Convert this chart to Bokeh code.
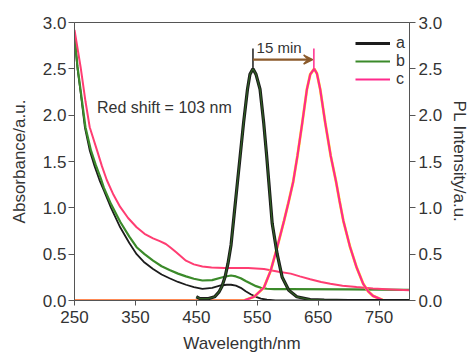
from bokeh.plotting import figure
from bokeh.models import (Range1d, LinearAxis, FixedTicker, Legend, LegendItem,
                          Arrow, VeeHead, Label, NumeralTickFormatter)
from bokeh.embed import file_html
from bokeh.resources import INLINE

# ---- Absorbance spectra ----
abs_a_wl = [250, 255, 260, 267, 275, 283, 291, 298, 310, 325, 340, 352, 365, 379, 393, 406, 420, 433,
            446, 460, 476, 490, 500, 507, 515, 523, 531, 540, 548, 556, 566, 580, 600, 700, 800]
abs_a = [2.85, 2.5, 2.25, 1.87, 1.62, 1.45, 1.3, 1.19, 1.0, 0.79, 0.62, 0.5, 0.41, 0.34, 0.28, 0.24, 0.2, 0.17,
         0.145, 0.126, 0.137, 0.162, 0.17, 0.17, 0.16, 0.137, 0.1, 0.065, 0.04, 0.02, 0.008, 0.002, 0.0, 0.0, 0.0]

abs_b_wl = [250, 255, 260, 268, 277, 285, 293, 298, 310, 325, 340, 352, 365, 379, 393, 406, 420, 433,
            446, 460, 476, 490, 500, 507, 515, 523, 531, 540, 548, 556, 566, 578, 600, 700, 800]
abs_b = [2.85, 2.52, 2.27, 1.87, 1.62, 1.46, 1.32, 1.22, 1.04, 0.85, 0.69, 0.575, 0.5, 0.43, 0.37, 0.33, 0.29, 0.26,
         0.235, 0.216, 0.22, 0.245, 0.262, 0.27, 0.26, 0.24, 0.21, 0.18, 0.155, 0.137, 0.127, 0.122, 0.122, 0.12, 0.115]

abs_c_wl = [250, 255, 260, 268, 275, 287, 295, 303, 314, 325, 338, 352, 365, 379, 390, 400, 408, 417, 433,
            446, 460, 475, 496, 535, 561, 585, 605, 620, 637, 655, 670, 690, 713, 740, 770, 800]
abs_c = [2.92, 2.72, 2.52, 2.15, 1.87, 1.62, 1.45, 1.3, 1.14, 1.01, 0.89, 0.79, 0.72, 0.67, 0.64, 0.61, 0.57, 0.52, 0.43,
         0.39, 0.367, 0.355, 0.35, 0.35, 0.34, 0.31, 0.29, 0.26, 0.23, 0.2, 0.18, 0.16, 0.145, 0.13, 0.12, 0.11]

# ---- PL emission spectra ----
pl_ab_wl = [450, 456, 470, 480, 487, 492, 497, 502, 507, 512, 517.6, 522, 527.6, 534, 538, 543, 548, 554.6,
            560.6, 565.5, 569, 574.6, 582.8, 591, 601.8, 615, 637, 660, 700, 800]
pl_a = [0.04, 0.02, 0.02, 0.04, 0.09, 0.15, 0.25, 0.4, 0.6, 0.92, 1.28, 1.56, 1.92, 2.28, 2.44, 2.5, 2.44, 2.28,
        1.92, 1.56, 1.28, 0.83, 0.5, 0.25, 0.11, 0.04, 0.01, 0.003, 0.0, 0.0]
pl_b = [0.04, 0.02, 0.02, 0.04, 0.09, 0.15, 0.25, 0.4, 0.6, 0.92, 1.28, 1.56, 1.92, 2.28, 2.44, 2.5, 2.44, 2.28,
        1.92, 1.56, 1.28, 0.83, 0.5, 0.25, 0.11, 0.04, 0.01, 0.003, 0.0, 0.0]

pl_c_wl = [250, 500, 528, 545, 561, 572, 583, 594, 601, 609, 616, 624, 631.6, 637, 643.5, 648, 653.4, 661.6,
           670.7, 679.5, 685, 691.4, 702.3, 713, 724, 732, 740, 756, 770, 800]
pl_c = [0.0, 0.0, 0.0, 0.04, 0.14, 0.32, 0.58, 0.86, 1.05, 1.28, 1.56, 1.92, 2.28, 2.44, 2.5, 2.45, 2.28, 1.92,
        1.56, 1.28, 1.08, 0.86, 0.58, 0.36, 0.18, 0.1, 0.05, 0.005, 0.0, 0.0]

# ---- annotation values ----
peak_a_wl = 543
peak_c_wl = 643
peak_val = 2.5
marker_top = 2.72
arrow_y = 2.6
shift_text = "Red shift = 103 nm"
shift_pos = (287, 2.08)
time_text = "15 min"
time_pos = (549, 2.64)

x_ticks = [250, 350, 450, 550, 650, 750]
y_ticks = [0.0, 0.5, 1.0, 1.5, 2.0, 2.5, 3.0]

FONT = "Liberation Sans"
TXT = "#333333"
AX = "#555555"
BLACK = "#1c1c1c"
GREEN = "#3b8a2a"
PINK = "#ff3d72"
PINK_PL = "#ff2a8c"
YELLOW = "#ffe81a"
BROWN = "#8b5a2b"

p = figure(width=472, height=358, output_backend="svg", toolbar_location=None,
           x_range=Range1d(250, 800), y_range=Range1d(0, 3.0),
           min_border_left=74, min_border_right=60, min_border_top=22, min_border_bottom=58)
p.extra_y_ranges = {"pl": Range1d(0, 3.0)}
p.grid.visible = False
p.outline_line_color = AX
p.outline_line_width = 1
p.background_fill_color = "white"
p.border_fill_color = "white"

# absorbance
r_abs_a = p.line(abs_a_wl, abs_a, line_color=BLACK, line_width=1.8)
r_abs_b = p.line(abs_b_wl, abs_b, line_color=GREEN, line_width=2.2)
p.line(abs_c_wl, abs_c, line_color=PINK, line_width=2.0)

# emission
r_pl_c_y = p.line(pl_c_wl, pl_c, line_color=YELLOW, line_width=2.8, y_range_name="pl")
r_pl_c = p.line(pl_c_wl, pl_c, line_color=PINK_PL, line_width=2.2, y_range_name="pl")
r_pl_a = p.line(pl_ab_wl, pl_a, line_color=BLACK, line_width=3.2, y_range_name="pl")
p.line(pl_ab_wl, pl_b, line_color="#2f5e22", line_width=1.2, y_range_name="pl")

# markers and arrow
p.segment(x0=[peak_a_wl], y0=[peak_val], x1=[peak_a_wl], y1=[marker_top], line_color=BLACK, line_width=1.5)
p.segment(x0=[peak_c_wl], y0=[peak_val], x1=[peak_c_wl], y1=[marker_top], line_color=PINK_PL, line_width=1.5)
p.add_layout(Arrow(x_start=peak_a_wl, y_start=arrow_y, x_end=peak_c_wl - 2, y_end=arrow_y,
                   line_color=BROWN, line_width=2.2,
                   end=VeeHead(size=9, line_color=BROWN, fill_color=BROWN, line_width=1.5)))
p.add_layout(Label(x=time_pos[0], y=time_pos[1], text=time_text, text_font=FONT,
                   text_font_size="15px", text_color=TXT, text_baseline="bottom"))
p.add_layout(Label(x=shift_pos[0], y=shift_pos[1], text=shift_text, text_font=FONT,
                   text_font_size="16px", text_color=TXT, text_baseline="middle"))

# axes
def style_axis(ax):
    ax.axis_line_color = AX
    ax.major_tick_line_color = AX
    ax.major_tick_out = 6
    ax.major_tick_in = 0
    ax.minor_tick_line_color = None
    ax.major_label_text_font = FONT
    ax.major_label_text_font_size = "17px"
    ax.major_label_text_color = TXT
    ax.axis_label_text_font = FONT
    ax.axis_label_text_font_size = "17px"
    ax.axis_label_text_font_style = "normal"
    ax.axis_label_text_color = TXT

xa = p.xaxis[0]
xa.ticker = FixedTicker(ticks=x_ticks)
xa.axis_label = "Wavelength/nm"
style_axis(xa)
xa.major_tick_out = 5
xa.major_label_standoff = 5
xa.axis_label_standoff = 8

ya = p.yaxis[0]
ya.ticker = FixedTicker(ticks=y_ticks)
ya.formatter = NumeralTickFormatter(format="0.0")
ya.axis_label = "Absorbance/a.u."
style_axis(ya)
ya.major_label_standoff = 2
ya.axis_label_standoff = 11

yr = LinearAxis(y_range_name="pl", ticker=FixedTicker(ticks=y_ticks),
                formatter=NumeralTickFormatter(format="0.0"), axis_label="PL Intensity/a.u.")
style_axis(yr)
yr.major_label_standoff = 3
yr.axis_label_standoff = 5
p.add_layout(yr, "right")

legend = Legend(items=[LegendItem(label="a", renderers=[r_pl_a]),
                       LegendItem(label="b", renderers=[r_abs_b]),
                       LegendItem(label="c", renderers=[r_pl_c])],
                location=(281, 212), glyph_width=35, glyph_height=18, label_height=18,
                label_standoff=6, spacing=0, padding=0, margin=0,
                label_text_font=FONT, label_text_font_size="16px", label_text_color=TXT,
                border_line_alpha=0, background_fill_alpha=0)
p.add_layout(legend, "center")

open("out.html", "w").write(file_html(p, INLINE))
